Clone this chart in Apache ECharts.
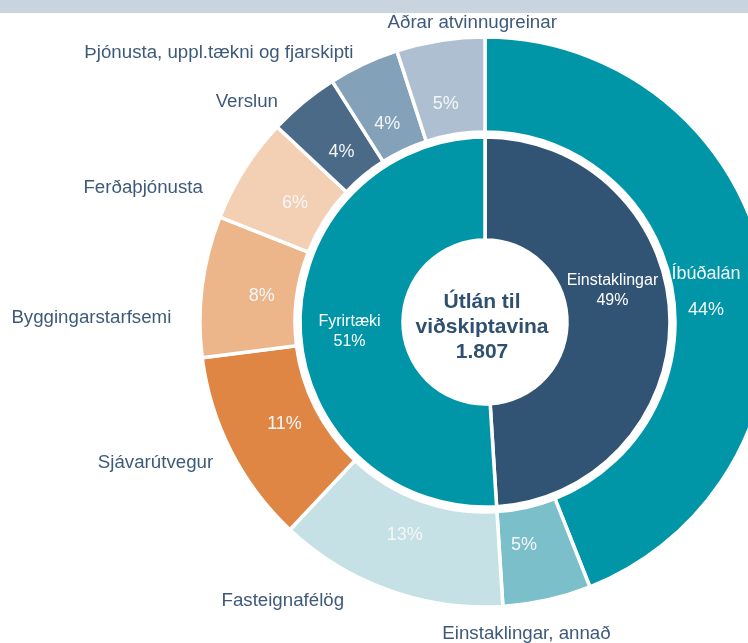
<!DOCTYPE html>
<html>
<head>
<meta charset="utf-8">
<script src="https://cdn.jsdelivr.net/npm/echarts@6/dist/echarts.min.js"></script>
<style>
html,body{margin:0;padding:0;background:#fff;}
#c{width:748px;height:643px;}
</style>
</head>
<body>
<div id="c"></div>
<script>
// ---- data ----
var innerNames = ['Einstaklingar', 'Fyrirtæki'];
var innerValues = [49, 51];
var outerNames = ['Íbúðalán', 'Einstaklingar, annað', 'Fasteignafélög', 'Sjávarútvegur', 'Byggingarstarfsemi', 'Ferðaþjónusta', 'Verslun', 'Þjónusta, uppl.tækni og fjarskipti', 'Aðrar atvinnugreinar'];
var outerValues = [44, 5, 13, 11, 8, 6, 4, 4, 5];
var centerTitle = ['Útlán til', 'viðskiptavina', '1.807'];

// ---- styles / layout ----
var innerColors = ['#325474', '#0096a8'];
var outerColors = ['#0096a8', '#7bbfcb', '#c5e1e6', '#e08644', '#edb58a', '#f3cfb3', '#4b6a88', '#84a1ba', '#adbfd0'];
var nameOffsets = [[0, 0], [-112, 24], [-36, 1], [-4, 7], [-16, 33], [-28, 24], [-14, 7], [-1, -2], [123, -8]];
var innerOffsets = [[-9, -27], [1, 5]];
var pctOffsets = [[0, 12], [-10, 3], [-4, 1], [0, 0], [0, 2], [0, 2], [0, 3], [-2, 6], [-4, 4]];
var FONT = '"Liberation Sans", Arial, sans-serif';
var TXT = '#3e5a7a';
var CX = 485, CY = 322;

var chart = echarts.init(document.getElementById('c'), null, {renderer: 'canvas'});

var innerData = innerNames.map(function (n, i) {
  return {name: n, value: innerValues[i], itemStyle: {color: innerColors[i]}};
});
var outerData = outerNames.map(function (n, i) {
  return {name: n, value: outerValues[i], itemStyle: {color: outerColors[i]},
    label: i === 0 ? {show: false} : undefined};
});
var pctData = outerNames.map(function (n, i) {
  return {name: n, value: outerValues[i]};
});

chart.setOption({
  animation: false,
  backgroundColor: '#ffffff',
  graphic: [
    {type: 'rect', left: 0, top: 0, shape: {width: 748, height: 13}, style: {fill: '#c9d4df'}, z: 10},
    {type: 'text', x: CX - 3, y: CY + 5, z: 10,
      style: {text: centerTitle.join('\n'), fill: '#2f5070', font: 'bold 21px ' + FONT,
        align: 'center', verticalAlign: 'middle', lineHeight: 25}}
  ],
  series: [
    {
      type: 'pie', center: [CX, CY], radius: [82, 185], startAngle: 90,
      avoidLabelOverlap: false, silent: true,
      itemStyle: {borderColor: '#ffffff', borderWidth: 3.5},
      label: {show: true, position: 'inside', formatter: '{b}\n{c}%', color: '#ffffff',
        fontFamily: FONT, fontSize: 16, lineHeight: 20},
      labelLine: {show: false},
      labelLayout: function (p) { var o = innerOffsets[p.dataIndex]; return {dx: o[0], dy: o[1]}; },
      data: innerData
    },
    {
      type: 'pie', center: [CX, CY], radius: [190, 285], startAngle: 90,
      avoidLabelOverlap: false, silent: true,
      itemStyle: {borderColor: '#ffffff', borderWidth: 3.5},
      label: {show: true, position: 'outside', formatter: '{b}', color: TXT,
        fontFamily: FONT, fontSize: 18.7, distanceToLabelLine: 5},
      labelLine: {show: false, length: 10, length2: 0},
      labelLayout: function (p) { var o = nameOffsets[p.dataIndex]; return {dx: o[0], dy: o[1]}; },
      data: outerData
    },
    {
      type: 'pie', center: [CX, CY], radius: [190, 254], startAngle: 90,
      avoidLabelOverlap: false, silent: true,
      itemStyle: {color: 'rgba(0,0,0,0)', borderWidth: 0},
      label: {show: true, position: 'inside', color: '#f4f7f8', fontFamily: FONT, fontSize: 18, lineHeight: 18,
        formatter: function (p) { return p.dataIndex === 0 ? p.name + '\n\n' + p.value + '%' : p.value + '%'; }},
      labelLine: {show: false},
      labelLayout: function (p) { var o = pctOffsets[p.dataIndex]; return {dx: o[0], dy: o[1]}; },
      data: pctData
    }
  ]
});
</script>
</body>
</html>
